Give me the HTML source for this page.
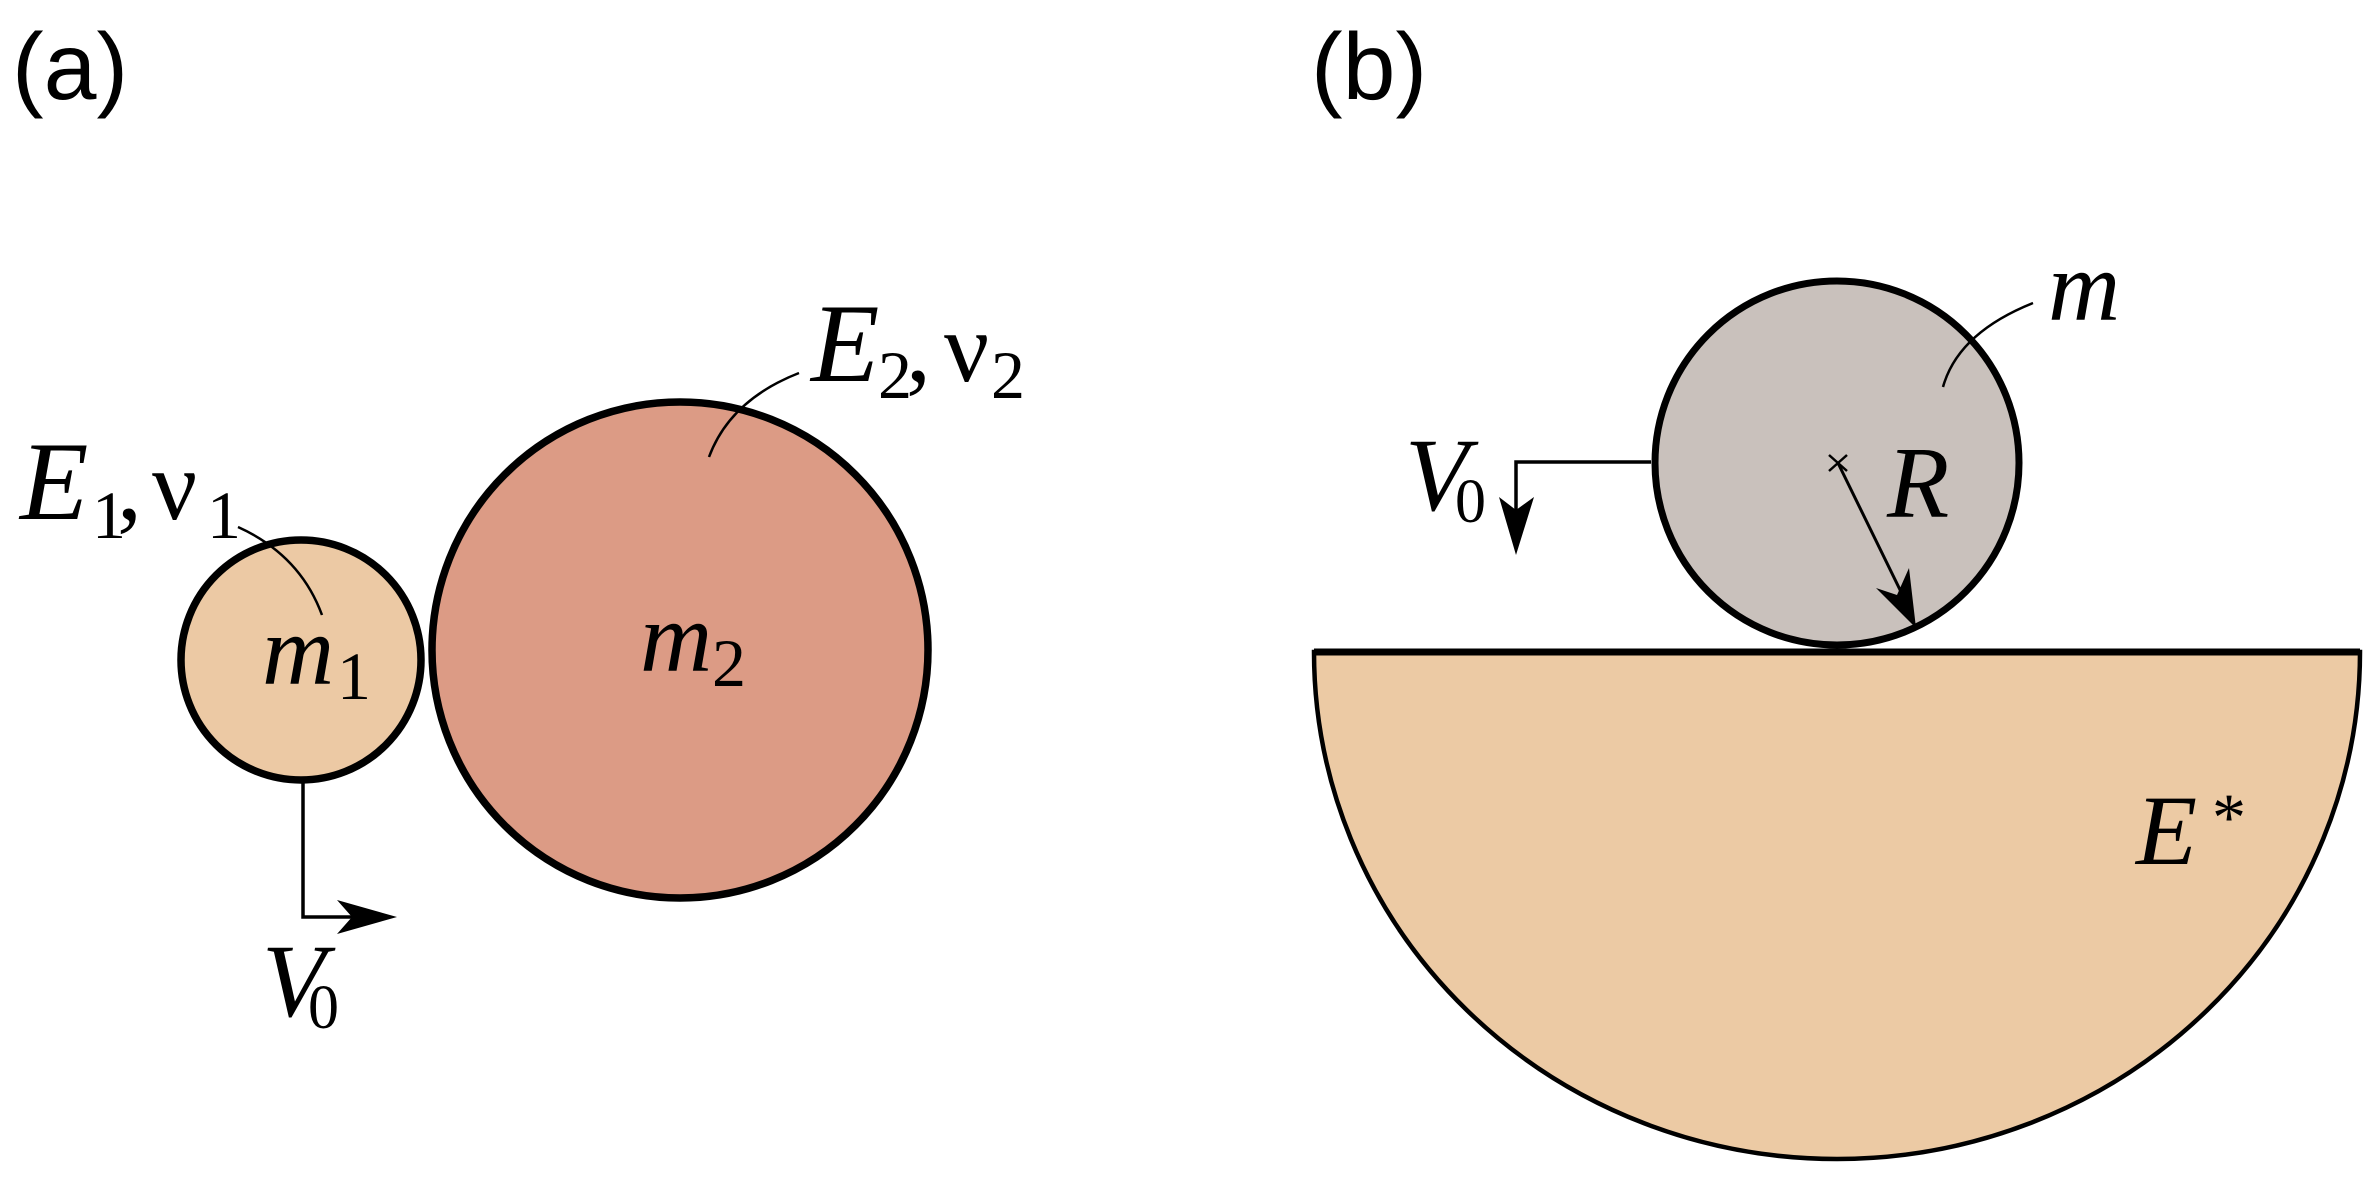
<!DOCTYPE html>
<html><head><meta charset="utf-8"><style>
html,body{margin:0;padding:0;background:#fff;}
svg{display:block;}
.s{font-family:"Liberation Sans",sans-serif;}
.i{font-family:"Liberation Serif",serif;font-style:italic;}
.r{font-family:"Liberation Serif",serif;}
</style></head><body>
<svg width="2379" height="1180" viewBox="0 0 2379 1180" xmlns="http://www.w3.org/2000/svg">
<!-- (a) -->
<text x="12" y="99" class="s" font-size="95">(a)</text>
<!-- big circle -->
<circle cx="680" cy="650" r="248" fill="#DC9B85" stroke="#000" stroke-width="7.5"/>
<!-- small circle -->
<circle cx="301" cy="660" r="120" fill="#ECC9A4" stroke="#000" stroke-width="7.5"/>
<!-- leaders -->
<path d="M238,527 Q300,555 322,615" fill="none" stroke="#000" stroke-width="2.5"/>
<path d="M799,373 Q730,400 709,457" fill="none" stroke="#000" stroke-width="2.5"/>
<!-- V0 arrow a -->
<path d="M303,782 L303,917 L355,917" fill="none" stroke="#000" stroke-width="3.5"/>
<path d="M397,917 L337,900 L352,917 L337,934 Z" fill="#000"/>
<!-- labels a -->
<text x="262" y="684" class="i" font-size="100">m</text>
<text x="337" y="699" class="r" font-size="68">1</text>
<text x="640" y="671" class="i" font-size="100">m</text>
<text x="712" y="686" class="r" font-size="68">2</text>
<text x="20" y="519" class="i" font-size="112">E</text>
<text x="92" y="538" class="r" font-size="68">1</text>
<text x="117" y="519" class="r" font-size="100">,</text>
<text x="152" y="519" class="r" font-size="100">ν</text>
<text x="207" y="538" class="r" font-size="68">1</text>
<text x="811" y="381" class="i" font-size="112">E</text>
<text x="878" y="398" class="r" font-size="68">2</text>
<text x="906" y="381" class="r" font-size="100">,</text>
<text x="944" y="381" class="r" font-size="100">ν</text>
<text x="991" y="398" class="r" font-size="68">2</text>
<text x="262" y="1016" class="i" font-size="104">V</text>
<text x="308" y="1028" class="r" font-size="62">0</text>

<!-- (b) -->
<text x="1311" y="99" class="s" font-size="95">(b)</text>
<!-- base half ellipse -->
<path d="M1314,652 A523,507 0 0 0 2360,652 Z" fill="#ECCAA4" stroke="#000" stroke-width="4.5"/>
<line x1="1314" y1="652" x2="2360" y2="652" stroke="#000" stroke-width="7"/>
<!-- ball -->
<circle cx="1837" cy="463" r="182" fill="#C9C1BC" stroke="#000" stroke-width="7"/>
<!-- cross -->
<path d="M1829,455 L1847,471 M1847,455 L1829,471" stroke="#000" stroke-width="2.5"/>
<!-- radius arrow -->
<line x1="1838" y1="463" x2="1905" y2="600" stroke="#000" stroke-width="3"/>
<path d="M1916,628 L1876,588 L1897,595 L1909,568 Z" fill="#000"/>
<!-- m leader -->
<path d="M2033,303 Q1958,333 1943,387" fill="none" stroke="#000" stroke-width="2.5"/>
<!-- V0 arrow b -->
<path d="M1651,462 L1516,462 L1516,520" fill="none" stroke="#000" stroke-width="3.5"/>
<path d="M1516,555 L1499,497 L1516,510 L1534,497 Z" fill="#000"/>
<!-- labels b -->
<text x="1405" y="510" class="i" font-size="104">V</text>
<text x="1455" y="522" class="r" font-size="62">0</text>
<text x="1887" y="517" class="i" font-size="102">R</text>
<text x="2048" y="320" class="i" font-size="100">m</text>
<text x="2136" y="864" class="i" font-size="100">E</text>
<text x="2212" y="840" class="r" font-size="68">*</text>
</svg>
</body></html>
